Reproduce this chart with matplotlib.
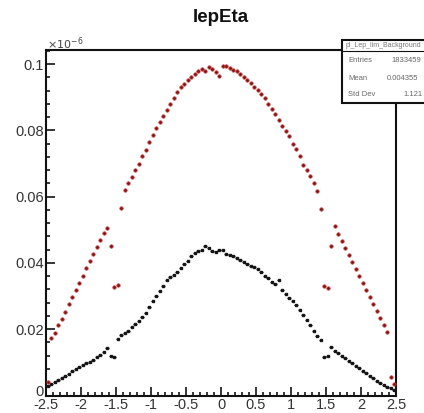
import numpy as np
import matplotlib
matplotlib.use("Agg")
import matplotlib.pyplot as plt
import matplotlib.transforms as mtransforms
from matplotlib.patches import Rectangle
from matplotlib.ticker import MultipleLocator

# bin centres: 100 bins from -2.5 to 2.5
etaBins = np.arange(-2.475, 2.5, 0.05)

redLeft = [0.0040, 0.0172, 0.0190, 0.0212, 0.0230, 0.0252, 0.0275, 0.0298, 0.0318, 0.0340,
           0.0362, 0.0385, 0.0405, 0.0428, 0.0448, 0.0470, 0.0490, 0.0505, 0.0452, 0.0326,
           0.0334, 0.0565, 0.0620, 0.0640, 0.0660, 0.0680, 0.0700, 0.0722, 0.0740, 0.0765,
           0.0785, 0.0806, 0.0826, 0.0843, 0.0862, 0.0880, 0.0898, 0.0915, 0.0930, 0.0940,
           0.0952, 0.0960, 0.0970, 0.0980, 0.0985, 0.0978, 0.0990, 0.0985, 0.0975, 0.0963]
redRight = [0.0993, 0.0994, 0.0988, 0.0982, 0.0978, 0.0970, 0.0962, 0.0952, 0.0942, 0.0932,
            0.0922, 0.0910, 0.0898, 0.0880, 0.0865, 0.0848, 0.0830, 0.0812, 0.0798, 0.0782,
            0.0760, 0.0745, 0.0722, 0.0695, 0.0680, 0.0662, 0.0640, 0.0618, 0.0562, 0.0330,
            0.0325, 0.0452, 0.0510, 0.0488, 0.0466, 0.0444, 0.0423, 0.0402, 0.0381, 0.0360,
            0.0340, 0.0318, 0.0298, 0.0276, 0.0255, 0.0234, 0.0212, 0.0192, 0.0056, 0.0034]

blackLeft = [0.0030, 0.0036, 0.0040, 0.0048, 0.0054, 0.0060, 0.0066, 0.0074, 0.0080, 0.0086,
             0.0092, 0.0098, 0.0102, 0.0108, 0.0115, 0.0122, 0.0130, 0.0142, 0.0118, 0.0116,
             0.0170, 0.0182, 0.0188, 0.0196, 0.0206, 0.0215, 0.0226, 0.0238, 0.0250, 0.0266,
             0.0285, 0.0300, 0.0315, 0.0330, 0.0350, 0.0358, 0.0365, 0.0372, 0.0385, 0.0398,
             0.0405, 0.0420, 0.0430, 0.0436, 0.0440, 0.0450, 0.0446, 0.0436, 0.0432, 0.0440]
blackRight = [0.0440, 0.0428, 0.0424, 0.0422, 0.0414, 0.0408, 0.0402, 0.0398, 0.0392, 0.0388,
              0.0382, 0.0372, 0.0362, 0.0355, 0.0342, 0.0336, 0.0350, 0.0318, 0.0305, 0.0295,
              0.0284, 0.0272, 0.0258, 0.0243, 0.0228, 0.0212, 0.0194, 0.0180, 0.0167, 0.0115,
              0.0118, 0.0145, 0.0135, 0.0128, 0.0120, 0.0113, 0.0105, 0.0098, 0.0090, 0.0083,
              0.0075, 0.0068, 0.0060, 0.0052, 0.0045, 0.0038, 0.0031, 0.0026, 0.0022, 0.0018]

xTicks = [-2.5, -2, -1.5, -1, -0.5, 0, 0.5, 1, 1.5, 2, 2.5]
xTickLabels = ['-2.5', '-2', '-1.5', '-1', '-0.5', '0', '0.5', '1', '1.5', '2', '2.5']
yTicks = [0, 0.02, 0.04, 0.06, 0.08, 0.1]
yTickLabels = ['0', '0.02', '0.04', '0.06', '0.08', '0.1']

statNames = ['Entries', 'Mean', 'Std Dev']
statValues = ['1833459', '0.004355', '1.121']

plt.rcParams['font.family'] = ['Liberation Sans', 'DejaVu Sans']

redVals = redLeft + redRight
blackVals = blackLeft + blackRight

fig = plt.figure(figsize=(4.24, 4.13), dpi=100)
ax = fig.add_axes([46/424, 17.5/413, 350/424, 346/413])

ax.errorbar(etaBins, blackVals, xerr=0.025, fmt='s', color='#151515',
            ms=1.7, elinewidth=0.9, capsize=0, zorder=3)
ax.plot(etaBins, redVals, 'o', color='#7a1515', mec='#c03535', mew=0.6, ms=2.4, zorder=4)

ax.set_xlim(-2.5, 2.5)
ax.set_ylim(0, 0.1044)
ax.set_xticks(xTicks)
ax.set_xticklabels(xTickLabels)
ax.set_yticks(yTicks)
ax.set_yticklabels(yTickLabels)
ax.xaxis.set_minor_locator(MultipleLocator(0.1))
ax.yaxis.set_minor_locator(MultipleLocator(0.004))
ax.tick_params(which='major', direction='in', length=6.2, width=1.1,
               labelsize=10.5, labelcolor='#333333', pad=1.5)
ax.tick_params(which='minor', direction='in', length=3.2, width=1.1)
for sp in ax.spines.values():
    sp.set_linewidth(1.5)
    sp.set_color('#111111')

# ROOT puts the "0" label slightly above the x axis
zeroLab = ax.get_yticklabels()[0]
zeroLab.set_transform(zeroLab.get_transform() +
                      mtransforms.ScaledTranslation(0, 5/100, fig.dpi_scale_trans))

fig.text(221/424, 1 - 18/413, 'lepEta', ha='center', va='center',
         fontsize=13.5, fontweight='bold', color='#111111')
fig.text(47/424, 1 - 44/413, r'$\times10^{-6}$', ha='left', va='center',
         fontsize=8, color='#444444')

# stats box
bx0 = 342/424
by0 = 1 - 103/413
by1 = 1 - 40/413
fig.add_artist(Rectangle((bx0, by0), 1.2 - bx0, by1 - by0, transform=fig.transFigure,
                         facecolor='white', edgecolor='#111111', lw=1.5, zorder=5))
fig.add_artist(plt.Line2D([bx0, 1.0], [1 - 51/413, 1 - 51/413], transform=fig.transFigure,
                          color='#111111', lw=0.8, zorder=6))
fig.text(346/424, 1 - 45.5/413, 'pl_Lep_lim_Background', fontsize=5,
         color='#777777', va='center', zorder=7)
rowY = [61, 78, 94]
valX = [391, 387, 403]
for n, name in enumerate(statNames):
    fig.text(348/424, 1 - rowY[n]/413, name, fontsize=5.5, color='#666666',
             va='center', zorder=7)
    fig.text(valX[n]/424, 1 - rowY[n]/413, statValues[n], fontsize=5.5,
             color='#666666', va='center', zorder=7)

fig.savefig('out.png', dpi=100)
